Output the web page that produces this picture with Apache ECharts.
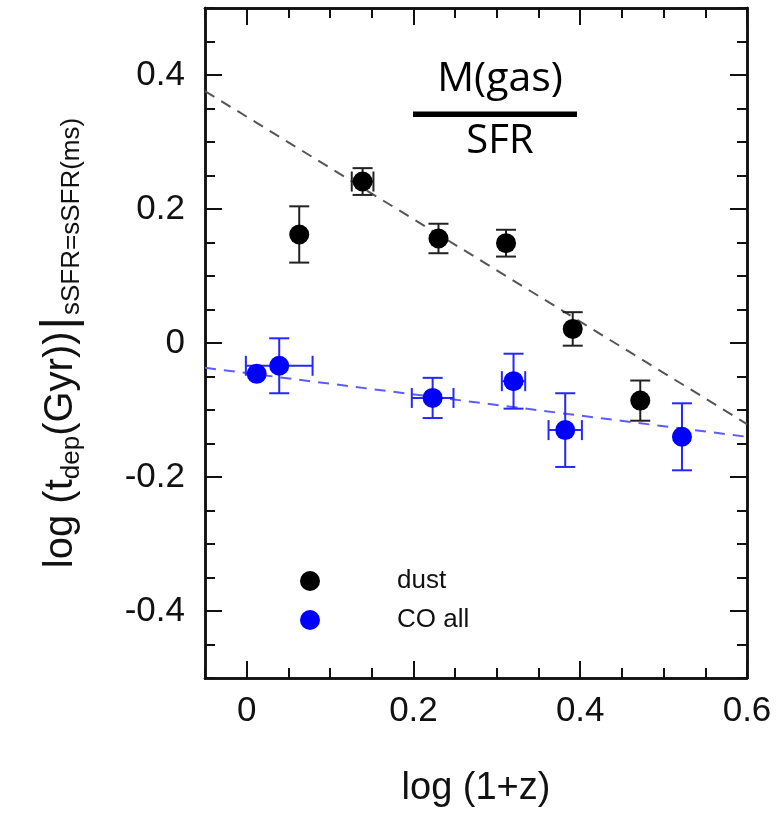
<!DOCTYPE html>
<html><head><meta charset="utf-8">
<script src="https://cdn.jsdelivr.net/npm/echarts@6/dist/echarts.min.js"></script>
<style>html,body{margin:0;padding:0;background:#fff}#c{width:779px;height:816px}</style>
</head><body><div id="c"></div>
<script>
// ---- data ----
const dustX    = [0.063, 0.139, 0.230, 0.311, 0.391, 0.472];
const dustY    = [0.162, 0.241, 0.156, 0.149, 0.021, -0.086];
const dustXErr = [0, 0.013, 0, 0, 0, 0];
const dustYErr = [0.042, 0.020, 0.022, 0.020, 0.025, 0.030];

const coX    = [0.012, 0.039, 0.223, 0.320, 0.382, 0.522];
const coY    = [-0.046, -0.034, -0.082, -0.057, -0.130, -0.140];
const coXErr = [0, 0.040, 0.025, 0.014, 0.020, 0];
const coYErr = [0, 0.041, 0.030, 0.041, 0.055, 0.050];

const dustFitX = [-0.05, 0.6];
const dustFitY = [0.376, -0.121];
const coFitX   = [-0.05, 0.6];
const coFitY   = [-0.037, -0.140];

const xMajorTicks = [0, 0.2, 0.4, 0.6];
const yMajorTicks = [-0.4, -0.2, 0, 0.2, 0.4];
const seriesNames = ['dust', 'CO all'];

// ---- chart ----
const FONT = 'Liberation Sans';
const INK = '#111';
const chart = echarts.init(document.getElementById('c'), null, {renderer: 'canvas'});

const fmt = v => (Math.abs(v) < 1e-9 ? '0' : v.toFixed(1));
const line = {show: true, onZero: false, lineStyle: {color: INK, width: 2.5}};
const minorTick = {show: true, inside: true, length: 10, lineStyle: {color: INK, width: 2}};
const majorTick = vals => ({show: true, inside: true, length: 17, customValues: vals, lineStyle: {color: INK, width: 2}});

function xAxisPair(pos, withLabels) {
  return [
    {type: 'value', position: pos, min: -0.05, max: 0.6, interval: 0.05,
     axisLine: line, axisTick: minorTick, axisLabel: {show: false}, splitLine: {show: false}},
    {type: 'value', position: pos, min: -0.05, max: 0.6,
     axisLine: line, axisTick: majorTick(xMajorTicks),
     axisLabel: withLabels ? {show: true, customValues: xMajorTicks, formatter: fmt, fontSize: 35,
       fontFamily: FONT, color: INK, margin: 16} : {show: false},
     splitLine: {show: false},
     name: withLabels ? 'log (1+z)' : '', nameLocation: 'middle', nameGap: 92,
     nameTextStyle: {fontSize: 38, fontFamily: FONT, color: INK}}
  ];
}
function yAxisPair(pos, withLabels) {
  const sty = (fs, pad) => ({fontSize: fs, fontFamily: FONT, color: INK, padding: pad});
  return [
    {type: 'value', position: pos, min: -0.5, max: 0.5, interval: 0.05,
     axisLine: line, axisTick: minorTick, axisLabel: {show: false}, splitLine: {show: false}},
    {type: 'value', position: pos, min: -0.5, max: 0.5,
     axisLine: line, axisTick: majorTick(yMajorTicks),
     axisLabel: withLabels ? {show: true, customValues: yMajorTicks, formatter: fmt, fontSize: 35,
       fontFamily: FONT, color: INK, margin: 20} : {show: false},
     splitLine: {show: false},
     name: withLabels ? '{m|log (t}{s|dep}{m|(Gyr))}{b||}{s|sSFR=sSFR(ms)}' : '',
     nameLocation: 'middle', nameRotate: 90, nameGap: 120,
     nameTextStyle: {fontSize: 40, fontFamily: FONT, color: INK,
       rich: {m: sty(40, [0, 0, 0, 0]), s: sty(26, [21, 0, 0, 0]), b: sty(48, [0, 2, 0, 2])}}}
  ];
}

function errRenderer(color) {
  return function (params, api) {
    const x = api.value(0), y = api.value(1), xe = api.value(2), ye = api.value(3);
    const c = api.coord([x, y]);
    const cap = 10;
    const st = {stroke: color, lineWidth: 2};
    const kids = [];
    const seg = (x1, y1, x2, y2) => kids.push({type: 'line', shape: {x1, y1, x2, y2}, style: st});
    if (ye > 0) {
      const t = api.coord([x, y + ye]), b = api.coord([x, y - ye]);
      seg(c[0], t[1], c[0], b[1]);
      seg(c[0] - cap, t[1], c[0] + cap, t[1]);
      seg(c[0] - cap, b[1], c[0] + cap, b[1]);
    }
    if (xe > 0) {
      const l = api.coord([x - xe, y]), r = api.coord([x + xe, y]);
      seg(l[0], c[1], r[0], c[1]);
      seg(l[0], c[1] - cap, l[0], c[1] + cap);
      seg(r[0], c[1] - cap, r[0], c[1] + cap);
    }
    return {type: 'group', children: kids};
  };
}

const dustErrData = dustX.map((x, i) => [x, dustY[i], dustXErr[i], dustYErr[i]]);
const coErrData = coX.map((x, i) => [x, coY[i], coXErr[i], coYErr[i]]);

chart.setOption({
  animation: false,
  backgroundColor: '#fff',
  grid: {left: 205, right: 32, top: 8, bottom: 138, containLabel: false},
  xAxis: [...xAxisPair('bottom', true), ...xAxisPair('top', false)],
  yAxis: [...yAxisPair('left', true), ...yAxisPair('right', false)],
  legend: {
    data: seriesNames.map(n => ({name: n, icon: 'circle'})),
    orient: 'vertical', left: 295, top: 563, itemWidth: 20, itemHeight: 20, itemGap: 13,
    selectedMode: false,
    textStyle: {fontSize: 26, fontFamily: FONT, color: INK, padding: [0, 0, 0, 72]}
  },
  graphic: [
    {type: 'text', style: {text: 'M(gas)', x: 500, y: 79, align: 'center', verticalAlign: 'middle',
      font: '41px "Open Sans"', fill: '#000'}, z: 10},
    {type: 'rect', shape: {x: 413, y: 111.5, width: 164, height: 5.5}, style: {fill: '#000'}, z: 10},
    {type: 'text', style: {text: 'SFR', x: 500, y: 142, align: 'center', verticalAlign: 'middle',
      font: '40px "Open Sans"', fill: '#000'}, z: 10}
  ],
  series: [
    {type: 'line', name: 'dustFit', data: dustFitX.map((x, i) => [x, dustFitY[i]]), symbol: 'none',
     lineStyle: {color: '#555', width: 2, type: [11, 8]}, silent: true, z: 2},
    {type: 'line', name: 'coFit', data: coFitX.map((x, i) => [x, coFitY[i]]), symbol: 'none',
     lineStyle: {color: '#5c5cff', width: 2, type: [11, 8]}, silent: true, z: 2},
    {type: 'custom', name: 'dustErr', renderItem: errRenderer('#222'), data: dustErrData, z: 3, silent: true},
    {type: 'custom', name: 'coErr', renderItem: errRenderer('#2626ff'), data: coErrData, z: 3, silent: true},
    {type: 'scatter', name: seriesNames[0], data: dustX.map((x, i) => [x, dustY[i]]), symbolSize: 20,
     itemStyle: {color: '#000', opacity: 1}, z: 5},
    {type: 'scatter', name: seriesNames[1], data: coX.map((x, i) => [x, coY[i]]), symbolSize: 20,
     itemStyle: {color: '#0000ff', opacity: 1}, z: 5}
  ]
});
</script></body></html>
